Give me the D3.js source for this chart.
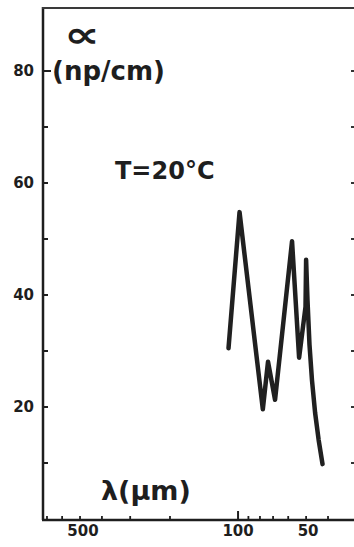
<!DOCTYPE html>
<html>
<head>
<meta charset="utf-8">
<script src="https://cdn.jsdelivr.net/npm/d3@7"></script>
<style>
  html, body { margin: 0; padding: 0; background: #ffffff; }
  svg { display: block; }
  text { font-family: "DejaVu Sans", sans-serif; font-weight: bold; fill: #1e1e1e; }
</style>
</head>
<body>
<svg id="chart" width="354" height="547"></svg>
<script>
// ---- data ----
const wavelength = [110.2, 98.5, 77.7, 73.7, 68.6, 57.7, 53.7, 50.3, 50.0, 49.3, 48.3, 47.1, 45.6, 44.0, 42.3]; // λ (µm)
const alpha      = [30.5, 54.8, 19.6, 28.1, 21.3, 49.6, 28.8, 37.9, 46.3, 39.1, 31.1, 24.8, 18.9, 14.1, 9.8];  // α (np/cm)
const yTickLabels = [20, 40, 60, 80];
const yMinorTicks = [10, 30, 50, 70];
const xTickLabels = [500, 100, 50];
const xMinorTicks = [700, 600, 500, 400, 300, 200, 90, 80, 70, 60, 50, 40];
const xDomain = [729, 30.7];
const yDomain = [0, 91.25];

(function () {
// ---- layout ----
const svg = d3.select("#chart");
const mLeft = 43, mRight = 354, mTop = 8, mBottom = 519;
const ink = "#1e1e1e";

const x = d3.scaleLog().domain(xDomain).range([mLeft, mRight]);
const y = d3.scaleLinear().domain(yDomain).range([mBottom, mTop]);

// frame: left, bottom, top
svg.append("line").attr("x1", mLeft).attr("x2", mLeft).attr("y1", mTop - 1).attr("y2", mBottom + 1)
  .attr("stroke", ink).attr("stroke-width", 2.5);
svg.append("line").attr("x1", mLeft - 1).attr("x2", mRight).attr("y1", mBottom + 1).attr("y2", mBottom + 1)
  .attr("stroke", ink).attr("stroke-width", 2.5);
svg.append("line").attr("x1", mLeft - 1).attr("x2", mRight).attr("y1", mTop).attr("y2", mTop)
  .attr("stroke", "#3a3a3a").attr("stroke-width", 2);

// left axis ticks + labels
const yAll = yTickLabels.concat(yMinorTicks);
svg.append("g").selectAll("line").data(yAll).join("line")
  .attr("x1", mLeft).attr("x2", d => mLeft + (d === 80 ? 8 : 5))
  .attr("y1", d => y(d)).attr("y2", d => y(d))
  .attr("stroke", ink).attr("stroke-width", 2);
svg.append("g").selectAll("text").data(yTickLabels).join("text")
  .attr("x", 34).attr("y", d => y(d)).attr("dy", "0.36em")
  .attr("text-anchor", "end").attr("font-size", 15)
  .text(d => d);

// right side ticks (dots)
svg.append("g").selectAll("line").data(yAll).join("line")
  .attr("x1", mRight - 3).attr("x2", mRight)
  .attr("y1", d => y(d)).attr("y2", d => y(d))
  .attr("stroke", "#333").attr("stroke-width", 2);

// bottom axis ticks + labels
svg.append("g").selectAll("line").data(xMinorTicks).join("line")
  .attr("x1", d => x(d)).attr("x2", d => x(d))
  .attr("y1", mBottom).attr("y2", mBottom - 3)
  .attr("stroke", ink).attr("stroke-width", 1.8);
svg.append("line").attr("x1", x(100)).attr("x2", x(100))
  .attr("y1", mBottom).attr("y2", mBottom - 8)
  .attr("stroke", ink).attr("stroke-width", 2);
svg.append("g").selectAll("text").data(xTickLabels).join("text")
  .attr("x", d => x(d) + (d === 500 ? 3 : d === 50 ? 2 : 0)).attr("y", 536)
  .attr("text-anchor", "middle").attr("font-size", 15)
  .text(d => d);

// curve
const pts = wavelength.map((w, i) => [w, alpha[i]]);
svg.append("path").datum(pts)
  .attr("fill", "none").attr("stroke", "#202020").attr("stroke-width", 4.5)
  .attr("stroke-linejoin", "round").attr("stroke-linecap", "round")
  .attr("d", d3.line().x(d => x(d[0])).y(d => y(d[1])));

// annotations
svg.append("text").attr("transform", "translate(64,46.5) scale(1.4,1)").attr("font-size", 36).text("∝");
svg.append("text").attr("x", 52).attr("y", 80).attr("font-size", 26).text("(np/cm)");
svg.append("text").attr("x", 115).attr("y", 179).attr("font-size", 24).text("T=20°C");
svg.append("text").attr("x", 101).attr("y", 500).attr("font-size", 27).text("λ(μm)");
})();
</script>
</body>
</html>
